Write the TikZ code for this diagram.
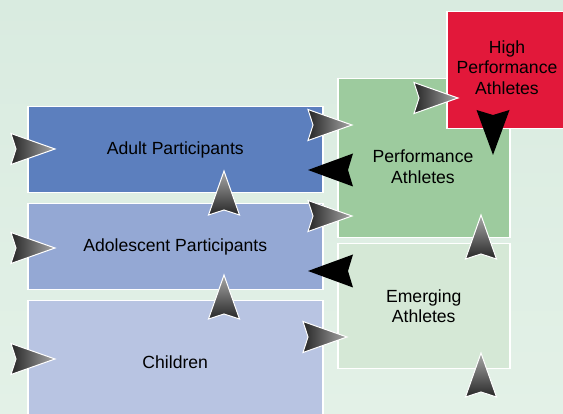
\documentclass[tikz,border=0pt]{standalone}
\usepackage{fontspec}
\setmainfont{Liberation Sans}
\definecolor{bgtop}{HTML}{D9EBE0}
\definecolor{bgbot}{HTML}{E3F1E7}
\definecolor{adultc}{HTML}{5C7FBE}
\definecolor{adolc}{HTML}{94A8D4}
\definecolor{childc}{HTML}{B8C4E2}
\definecolor{perfc}{HTML}{9DCB9E}
\definecolor{emergc}{HTML}{D5E8D6}
\definecolor{highc}{HTML}{E2183A}
\definecolor{adark}{HTML}{262626}
\definecolor{alight}{HTML}{A8A8A8}
\tikzset{
  box/.style={draw=white, line width=1.5pt, inner sep=0pt, anchor=north west,
              font=\fontsize{17.6}{20.5}\selectfont, align=center, text=black},
  lbl/.style={font=\fontsize{17.6}{20.5}\selectfont, align=center, text=black},
  garrow/.style={draw=white, line width=1pt, line join=miter},
  barrow/.style={fill=black},
  pics/arR/.style={code={\path[garrow, left color=adark, right color=alight]
      (0,0) -- (-44,-15.5) -- (-39,0) -- (-44,15.5) -- cycle;}},
  pics/arU/.style={code={\path[garrow, bottom color=adark, top color=alight]
      (0,0) -- (-15.5,44) -- (0,39) -- (15.5,44) -- cycle;}},
  pics/arL/.style={code={\path[barrow]
      (0,0) -- (45,-16.5) -- (40,0) -- (45,16.5) -- cycle;}},
  pics/arD/.style={code={\path[barrow]
      (0,0) -- (-16.5,-45) -- (0,-40) -- (16.5,-45) -- cycle;}},
}
\begin{document}
\begin{tikzpicture}[x=1pt,y=-1pt]
\useasboundingbox (0,0) rectangle (563,414);
\clip (0,0) rectangle (563,414);
\shade[top color=bgtop, bottom color=bgbot] (0,0) rectangle (563,414);

% boxes
\node[box, fill=adultc, minimum width=295pt, minimum height=86pt] (adult) at (27,106) {Adult Participants};
\node[box, fill=adolc, minimum width=295pt, minimum height=86pt] (adol) at (27,203) {Adolescent Participants};
\node[box, fill=childc, minimum width=295pt, minimum height=122pt] (child) at (27,300) {Children};
\node[box, fill=perfc, minimum width=172pt, minimum height=159pt] (perf) at (337,78) {};
\node[lbl] (perftext) at (423,166.5) {Performance\\Athletes};
\node[box, fill=emergc, minimum width=172pt, minimum height=125pt] (emerg) at (337,243) {Emerging\\Athletes};
\node[box, fill=highc, minimum width=122pt, minimum height=117pt] (high) at (446,11) {};
\node[lbl] (hightext) at (507,67.5) {High\\Performance\\Athletes};

% arrows
\pic (a1) at (55,149) {arR};
\pic (a2) at (55,248) {arR};
\pic (a3) at (55,359) {arR};
\pic (a4) at (224,275) {arU};
\pic (a5) at (224,171) {arU};
\pic (a6) at (352,125) {arR};
\pic (a7) at (308,170) {arL};
\pic (a8) at (352,216) {arR};
\pic (a9) at (308,271) {arL};
\pic (a10) at (347,337) {arR};
\pic (a11) at (481,215) {arU};
\pic (a12) at (481,353) {arU};
\pic (a13) at (458,98) {arR};
\pic (a14) at (493,155) {arD};
\end{tikzpicture}
\end{document}
